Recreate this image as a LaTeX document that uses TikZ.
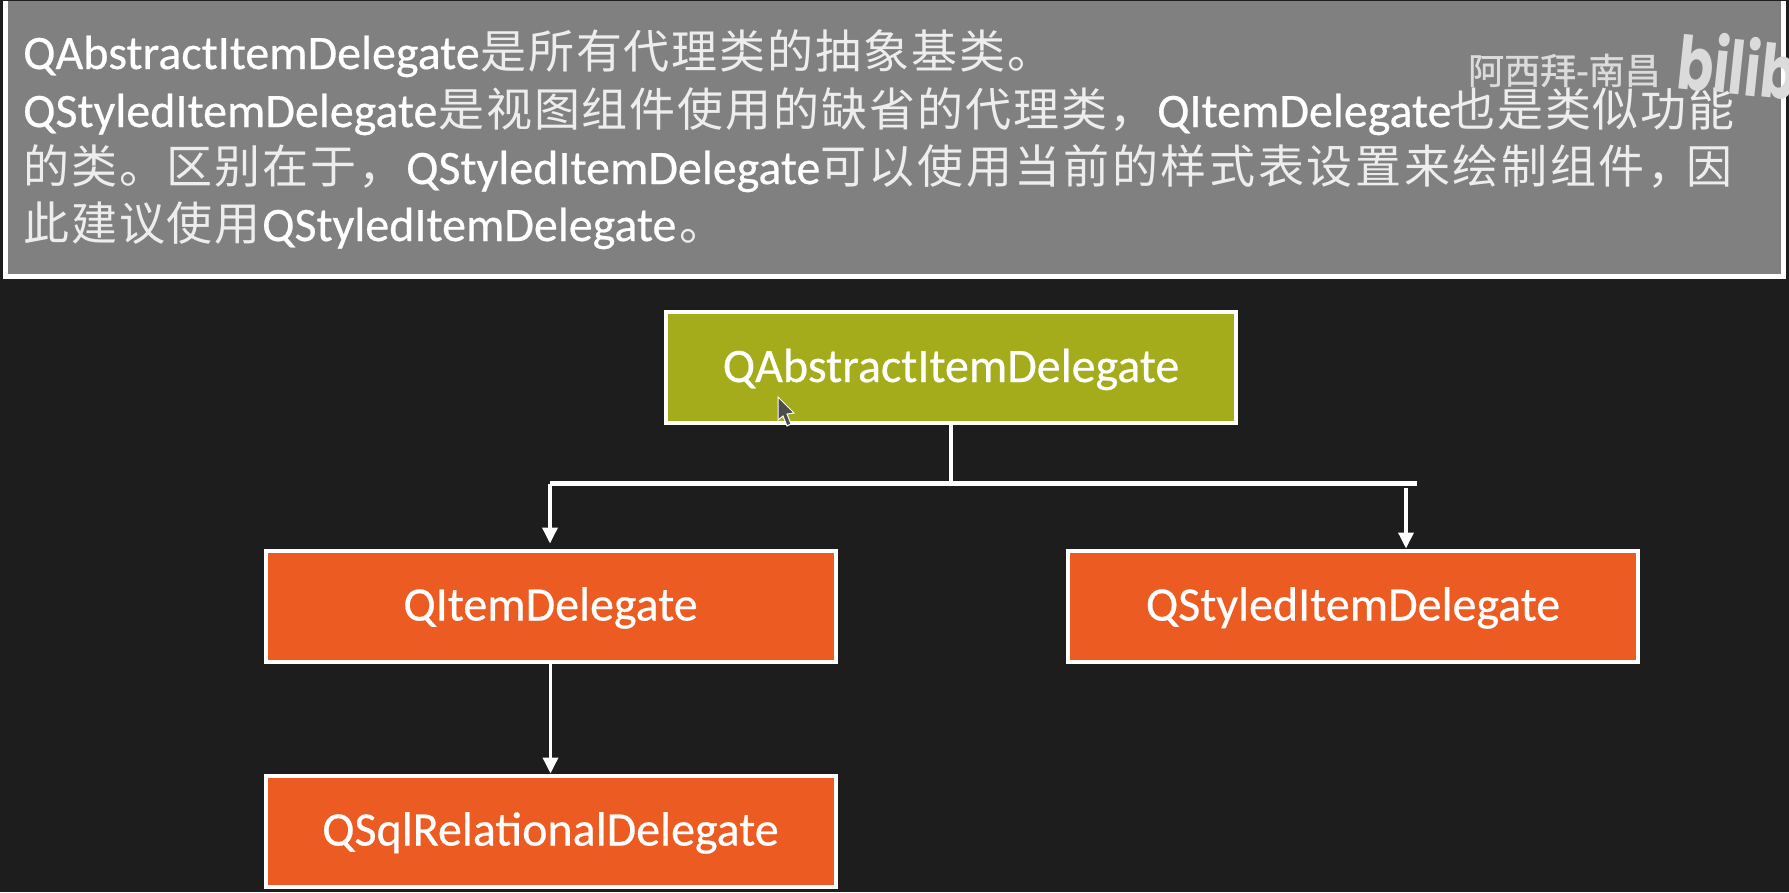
\documentclass[tikz,border=0pt]{standalone}
\usepackage{fontspec}
\setmainfont[FakeBold=0.5]{Carlito}
\newfontfamily\cjk[LetterSpace=4.2]{Noto Sans CJK SC}
\newfontfamily\cjkwide[LetterSpace=5.8]{Noto Sans CJK SC}
\newfontfamily\markfont[FakeBold=1]{Noto Sans CJK SC}
\newfontfamily\logofont{Poppins}
\usetikzlibrary{arrows.meta}
\definecolor{pagebg}{HTML}{1D1D1D}
\definecolor{bannerbg}{HTML}{808080}
\definecolor{olivebox}{HTML}{A4AC1C}
\definecolor{orangebox}{HTML}{EC5B21}
\definecolor{cjktext}{HTML}{EDEDED}

\begin{document}
\begin{tikzpicture}[
  x=1pt, y=-1pt,
  clsbox/.style={draw=white, line width=4pt, minimum width=570pt, minimum height=111pt,
                 inner sep=0pt, text=white, text height=38pt, text depth=9pt,
                 font=\fontsize{48}{52}\selectfont},
  latin/.style={anchor=base west, inner sep=0pt, text=white, font=\fontsize{48}{52}\selectfont},
  han/.style={anchor=base west, inner sep=0pt, text=cjktext, font=\fontsize{46}{48}\selectfont\cjk},
  hanw/.style={han, font=\fontsize{46}{48}\selectfont\cjkwide},
  conn/.style={draw=white, line width=3.5pt},
  arr/.style={conn, -{Triangle[length=16pt,width=15pt]}}
]
\useasboundingbox (0,0) rectangle (1789,892);
\fill[pagebg] (0,0) rectangle (1789,892);
% ---- banner ----
\filldraw[fill=bannerbg, draw=white, line width=5pt] (5,-4) rectangle (1783,276);
\fill[pagebg] (0,-4) rectangle (1789,1);
% ---- banner text, line by line ----
\node[latin] (la) at (23,69) {QAbstractItemDelegate};
\node[han] (lb) at (480,68) {是所有代理类的抽象基类。};
\node[latin] (lc) at (23,127) {QStyledItemDelegate};
\node[han] (ld) at (438,126) {是视图组件使用的缺省的代理类，};
\node[latin] (le) at (1157,127) {QItemDelegate};
\node[han] (lf) at (1449,126) {也是类似功能};
\node[han] (lg) at (23,183) {的类。区别在于，};
\node[latin] (lh) at (406,184) {QStyledItemDelegate};
\node[hanw] (li) at (820,183) {可以使用当前的样式表设置来绘制组件，};
\node[han] (lj) at (1686,183) {因};
\node[han] (lk) at (23,240) {此建议使用};
\node[latin] (ll) at (262,241) {QStyledItemDelegate};
\node[han] (lm) at (679,240) {。};
% ---- watermark ----
\node[anchor=base west, inner sep=0pt, text=black!14, font=\fontsize{36}{38}\selectfont\markfont] (wm) at (1468,84) {阿西拜-南昌};
\node[anchor=base west, inner sep=0pt, text=black!14, rotate=-6, xscale=0.72, font=\fontsize{74}{76}\selectfont\logofont\bfseries] (logo) at (1675,88) {bilibili};
% ---- class boxes ----
\node[clsbox, fill=olivebox] (abs) at (951,367.5) {QAbstractItemDelegate};
\node[clsbox, fill=orangebox] (qitem) at (550.5,606) {QItemDelegate};
\node[clsbox, fill=orangebox] (qstyled) at (1353,606) {QStyledItemDelegate};
\node[clsbox, fill=orangebox] (qsql) at (550.5,831) {QSqlRelationalDelegate};
% ---- connectors ----
\coordinate (barl) at (550,483.5);
\coordinate (barr) at (1417,483.5);
\coordinate (rstart) at (1406,488);
\draw[conn, line width=5pt] (barl) -- (barr);
\draw[conn, line width=4.5pt] (abs.south) -- (abs.south |- barl);
\draw[arr, shorten >=5pt] (barl) -- (qitem.north -| barl);
\draw[arr] (rstart) -- (rstart |- qstyled.north);
\draw[arr] (qitem.south) -- (qsql.north);
% ---- mouse pointer ----
\filldraw[fill=black!70, draw=white, line width=1pt]
  (778,397) -- (778,420) -- (783,416) -- (787,426) -- (791,424) -- (787,414) -- (794,413) -- cycle;
\end{tikzpicture}
\end{document}
